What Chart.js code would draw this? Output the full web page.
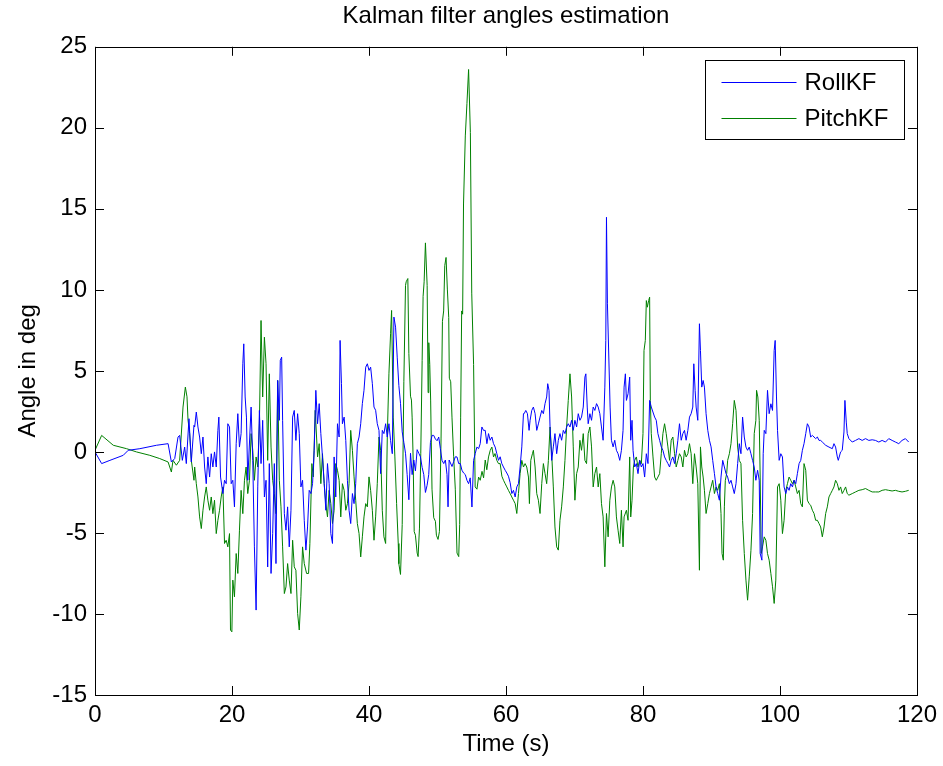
<!DOCTYPE html>
<html>
<head>
<meta charset="utf-8">
<script src="https://cdn.jsdelivr.net/npm/chart.js@4/dist/chart.umd.min.js"></script>
<style>
  html, body { margin: 0; padding: 0; background: #fff; }
  #wrap { width: 943px; height: 766px; }
</style>
</head>
<body>
<div id="wrap"><canvas id="kfChart" width="943" height="766"></canvas></div>
<script>
// [time (s), angle (deg)]
const rollKF = [
  [0,0],[0.97,-0.72],[2.18,-0.52],[4.12,-0.21],[4.85,0.1],[6.55,0.2],[8.97,0.41],[10.67,0.51],[11.15,-0.62],[11.64,-0.41],
  [12.12,0.92],[12.36,1.02],[12.75,-0.52],[13.09,0.3],[13.33,-0.72],[13.72,2.05],[14.06,-0.62],[14.45,1.64],
  [14.55,1.54],[14.79,2.46],[15.03,1.54],[15.27,0.92],[15.52,-0.11],[15.76,0.92],[16.0,-0.93],[16.24,-1.96],[16.48,-0.31],[16.73,-1.55],
  [16.97,-0.11],[17.21,-0.93],[17.45,0],[17.7,-0.93],[17.94,1.33],[18.08,2.15],[18.33,-1.55],[18.67,-2.57],[18.91,-1.75],[19.15,-1.96],
  [19.39,1.74],[19.64,1.54],[19.88,-1.96],[20.12,-1.75],[20.36,-3.39],[20.61,0.51],[20.85,2.36],[21.09,0.3],[21.33,1.13],[21.58,5.44],
  [21.72,6.67],[21.92,3.39],[22.11,2.15],[22.3,-1.75],[22.79,2.77],[23.03,-0.52],[23.27,-5.86],[23.52,-9.76],[23.76,-2.16],[24.0,2.56],
  [24.24,-0.72],[24.48,1.95],[24.73,-2.78],[24.97,-1.75],[25.21,-7.1],[25.45,-0.72],[25.7,-7.5],[25.94,-5.04],[26.18,-0.72],[26.42,-6.89],
  [26.67,4.41],[26.91,1.95],[27.05,5.65],[27.25,5.85],[27.39,1.95],[27.64,-3.81],[27.88,-4.83],[28.12,-3.39],[28.36,-5.86],[28.61,-3.6],
  [28.85,2.15],[29.09,2.56],[29.33,0.71],[29.58,2.36],[29.82,1.13],[30.06,-2.16],[30.3,-1.75],[30.55,-4.22],
  [30.79,-6.06],[31.03,-4.63],[31.27,-2.37],[31.52,-2.57],[31.76,-1.96],[32.0,0.1],[32.24,3.8],[32.49,1.74],[32.73,2.98],[32.97,1.13],
  [33.21,-0.31],[33.46,-1.96],[33.7,-3.6],[33.94,-0.72],[34.18,-1.96],[34.43,-5.04],[34.67,-5.65],[34.91,-0.31],[35.15,-2.78],[35.4,1.74],
  [35.64,0.92],[35.78,6.88],[35.98,4.21],[36.12,1.74],[36.37,2.15],[36.61,0.71],[36.85,-1.75],[37.09,-3.6],[37.33,-4.42],[37.58,-2.57],
  [37.82,-3.19],[38.06,-1.96],[38.3,0.51],[38.55,0.92],[38.79,1.74],[39.03,2.98],[39.27,3.8],[39.52,5.23],[39.76,5.44],[40.0,5.03],
  [40.24,5.23],[40.49,4.21],[40.73,2.77],[40.97,2.57],[41.21,1.74],[41.46,1.33],[41.7,-1.34],[41.94,1.33],[42.18,1.13],[42.43,1.74],
  [42.67,0.92],[42.91,1.74],[43.15,0.71],[43.4,-0.11],[43.64,8.32],[43.88,7.7],[44.12,5.85],
  [44.36,4.1],[44.6,3.0],[44.85,1.24],[45.09,0.58],[45.33,-0.08],[45.57,-1.4],[45.82,-2.95],[46.06,-0.08],[46.3,-1.4],[46.54,-0.5],
  [46.78,-1.17],[47.03,0.14],[47.27,-0.08],[47.51,-0.3],[47.76,-0.96],[48.0,-1.4],[48.24,-2.5],[48.48,-2.06],[48.72,-1.4],[48.97,0.58],
  [49.21,1.02],[49.45,1.02],[49.69,0.8],[49.94,0.69],[50.18,0.92],[50.42,0.2],[50.66,-0.52],[50.91,-0.72],[51.15,-0.5],[51.39,-1.4],
  [51.54,-3.39],[51.7,-0.5],[52.12,-0.9],[52.36,-0.6],[52.6,-0.3],[52.85,-0.31],[53.09,-0.72],[53.33,-0.72],[53.57,-1.13],[53.81,-1.3],
  [54.06,-1.4],[54.3,-1.75],[54.54,-1.96],[54.78,-1.6],[55.03,-3.4],[55.27,-0.52],[55.51,-0.1],[55.75,0.3],[56.0,0.2],[56.24,0.51],
  [56.48,1.54],[56.72,1.33],[56.97,1.33],[57.21,0.51],[57.45,1.13],[57.69,0.72],[57.94,0.92],[58.18,0.51],[58.42,0.3],[58.66,-0.1],
  [58.91,-0.52],[59.15,-0.3],[59.39,-0.72],[59.63,-0.93],[59.88,-1.13],[60.12,-1.3],[60.36,-1.5],
  [60.61,-1.9],[60.85,-2.57],[61.09,-2.37],[61.34,-2.78],[61.58,-2.16],[61.82,-1.96],[62.06,-0.93],[62.31,0.31],[62.55,2.36],[62.65,2.36],
  [62.89,2.56],[63.13,2.36],[63.37,1.33],[63.52,1.95],[63.76,2.56],[64.0,2.77],[64.25,2.36],[64.49,1.33],[64.73,1.73],[64.97,2.15],
  [65.22,2.56],[65.46,2.36],[65.7,2.98],[65.94,3.39],[66.09,4.21],[66.28,3.8],[66.43,1.54],[66.67,-0.52],[66.91,0.31],[67.15,1.13],
  [67.4,-0.11],[67.64,0.72],[67.88,1.13],[68.12,0.72],[68.37,1.33],[68.61,1.13],[68.85,1.54],[69.09,1.74],[69.34,1.54],[69.58,1.95],
  [69.82,1.33],[70.06,1.95],[70.31,1.54],[70.55,2.36],[70.79,1.95],[71.03,2.15],[71.28,2.77],[71.52,4.62],[71.66,4.82],[71.86,2.77],
  [72.0,1.74],[72.25,2.36],[72.49,1.95],[72.73,2.77],[72.97,2.56],[73.22,2.98],[73.46,2.77],[73.7,2.36],[73.94,1.54],[74.18,0.72],
  [74.43,4.0],[74.57,6.88],[74.67,14.48],[74.81,9.14],
  [75.2,2.77],[75.39,0.72],[75.64,0.31],[75.88,0.72],[76.12,0.1],[76.36,-0.11],[76.61,-0.52],[76.85,0.1],[77.09,1.33],[77.24,4.0],
  [77.43,4.82],[77.58,3.18],[77.82,3.59],[78.06,4.62],[78.21,0.72],[78.4,1.95],[78.55,0.1],[78.79,-0.93],[79.03,-0.72],[79.27,-1.34],
  [79.52,-0.52],[79.76,-0.93],[80.0,-0.72],[80.24,-1.55],[80.49,-0.11],[80.73,-0.72],[80.97,3.18],[81.21,2.77],[81.7,2.15],[81.94,1.95],
  [82.18,1.13],[82.43,0.72],[82.67,0.31],[82.91,0.1],[83.15,-0.31],[83.39,-0.52],[83.64,-0.72],[83.88,-0.93],[84.12,-0.52],[84.36,-0.31],
  [84.61,-0.72],[84.85,-0.11],[85.09,0.72],[85.33,1.74],[85.58,0.72],[85.82,1.13],[86.06,1.33],[86.3,0.72],[86.55,1.33],[86.79,2.15],
  [87.03,2.36],[87.27,2.77],[87.42,5.44],[87.61,3.8],[87.76,2.77],[88.0,1.95],[88.24,7.91],[88.39,6.26],[88.58,4.0],[88.78,4.41],
  [88.97,4.0],[89.21,2.36],[89.46,1.33],[89.7,0.72],[89.94,0.31],[90.18,-0.52],[90.43,-1.34],[90.67,-2.16],[90.91,-2.57],
  [91.15,-2.98],[91.39,-1.55],[91.64,-0.52],[91.88,-0.93],[92.12,-1.34],[92.36,-1.55],[92.61,-1.96],[92.85,-1.75],[93.09,-2.16],[93.33,-2.57],
  [93.58,-1.96],[93.82,-0.72],[94.06,0.51],[94.3,-0.11],[94.54,2.15],[94.79,0.92],[95.03,0.3],[95.27,0.1],[95.51,0.3],[95.76,-0.11],
  [96.0,-0.52],[96.24,-0.93],[96.48,-1.75],[96.73,-1.13],[96.97,-1.75],[97.11,-6.27],[97.36,-6.68],[97.55,-0.11],[97.7,1.33],[97.94,1.13],
  [98.18,3.8],[98.42,2.36],[98.67,2.97],[98.91,2.56],[99.15,6.26],[99.3,6.88],[99.49,3.39],[99.64,1.33],[99.88,-0.52],[100.12,-0.11],
  [100.36,-0.31],[100.6,-2.16],[100.85,-2.57],[101.09,-2.16],[101.33,-2.37],[101.57,-1.96],[101.82,-2.16],[102.06,-1.75],[102.3,-1.96],[102.54,-1.34],
  [102.79,-0.72],[103.03,-0.52],[103.27,0.1],[103.51,0.51],[103.76,1.13],[104.0,1.74],[104.24,1.54],[104.48,0.92],[104.73,1.02],
  [105.21,0.82],[105.46,0.92],[105.7,0.71],[105.94,0.71],[106.18,0.61],[106.67,0.41],[107.15,0.3],[107.64,0.2],[107.88,0.51],[108.12,0.3],
  [108.37,-0.31],[108.51,-0.52],[108.85,0],[109.09,0.1],[109.34,1.23],[109.48,3.18],[109.68,1.84],[109.82,1.13],[110.06,0.82],[110.55,0.61],
  [111.03,0.71],[111.52,0.82],[112.0,0.71],[112.49,0.82],[112.97,0.71],[113.46,0.75],[113.94,0.71],[114.43,0.61],[114.91,0.71],[115.4,0.61],
  [115.88,0.82],[116.37,0.71],[116.85,0.61],[117.34,0.51],[117.82,0.71],[118.31,0.82],[118.79,0.61]
];

const pitchKF = [
  [0,0.1],[0.97,1.02],[2.67,0.41],[4.61,0.2],[6.06,0],[8.0,-0.21],[9.45,-0.41],[10.67,-0.62],[11.15,-1.24],[11.39,-0.52],
  [11.88,-0.82],[12.36,-0.52],[12.85,2.77],[13.19,4.0],[13.43,3.4],[13.58,1.97],[13.82,1.13],[14.06,-0.52],[14.45,-1.75],
  [14.55,-0.93],[14.79,-1.96],[15.03,-2.78],[15.27,-4.01],[15.52,-4.73],[15.76,-3.6],[16.0,-2.78],[16.24,-2.16],[16.48,-2.98],[16.73,-3.6],
  [16.97,-2.78],[17.21,-3.81],[17.45,-2.98],[17.7,-5.04],[17.94,-4.22],[18.18,-3.6],[18.42,-2.78],[18.67,-2.16],[18.91,-5.65],[19.15,-5.45],
  [19.39,-5.86],[19.64,-5.04],[19.78,-10.99],[19.98,-11.1],[20.12,-7.91],[20.36,-8.94],[20.61,-6.27],[20.85,-7.5],[21.09,-4.83],[21.33,-2.37],
  [21.58,-3.81],[21.82,-1.75],[22.06,-0.93],[22.3,-2.57],[22.55,-1.75],[22.79,1.13],[23.03,0.1],[23.27,-1.75],[23.52,-0.31],[23.76,-0.93],
  [24.0,1.74],[24.24,8.11],[24.48,3.39],[24.73,7.08],[24.97,5.44],[25.21,-0.52],[25.45,4.82],[25.7,0.3],[25.94,-1.75],[26.18,-2.57],
  [26.42,-3.81],[26.67,4.41],[26.91,-1.75],[27.15,-3.39],[27.39,-5.86],[27.64,-8.74],[27.88,-8.33],[28.12,-6.89],[28.36,-7.91],[28.61,-8.74],
  [28.85,-5.45],[29.09,-7.09],[29.33,-7.3],[29.58,-9.97],[29.82,-10.99],[30.06,-8.94],[30.3,-5.86],[30.55,-6.89],
  [30.89,-7.5],[31.18,-7.5],[31.37,-5.65],[31.66,-0.72],[31.86,-1.54],[32.15,2.57],[32.49,-0.31],[32.73,0.51],[32.97,-1.96],[33.21,-0.11],
  [33.46,-1.96],[33.7,-3.19],[33.94,-4.01],[34.18,-2.37],[34.43,-3.19],[34.67,-4.42],[34.91,-3.6],[35.15,-0.72],[35.4,-1.13],[35.64,-1.75],
  [35.88,-4.01],[36.12,-1.96],[36.37,-2.37],[36.61,-3.6],[36.85,-3.19],[37.09,-1.96],[37.33,1.33],[37.58,0.1],[37.82,-1.54],[38.06,-2.98],
  [38.3,-4.42],[38.55,-5.04],[38.79,-6.48],[39.03,-5.24],[39.27,-4.01],[39.52,-3.19],[39.76,-3.39],[40.0,-1.54],[40.24,-2.37],[40.49,-3.6],
  [40.73,-5.45],[40.97,-4.01],[41.21,-1.96],[41.46,0.92],[41.7,0.1],[41.94,-3.6],[42.18,-5.24],[42.43,-5.65],[42.67,0.92],[42.91,4.82],
  [43.15,7.29],[43.3,8.73],[43.54,2.15],[43.78,-0.31],[44.03,-3.19],[44.27,-5.65],
  [44.36,-6.9],[44.6,-7.56],[44.85,-4.48],[45.09,4.33],[45.33,10.27],[45.43,10.5],[45.67,10.7],[45.82,6.08],[46.06,3.44],[46.2,3.2],
  [46.3,2.1],[46.45,-0.52],[46.6,-4.92],[46.78,-5.14],[47.03,-6.24],[47.17,-6.46],[47.37,-4.7],[47.56,-0.08],[47.76,5.64],[47.9,9.6],
  [48.05,10.5],[48.24,12.9],[48.49,10.27],[48.63,3.66],[48.73,6.74],[48.87,5.4],[49.0,3.2],[49.2,-2.3],[49.45,-4.06],[49.7,-4.28],
  [49.84,-5.14],[50.08,-5.4],[50.28,-4.92],[50.52,0.8],[50.72,8.06],[50.9,8.7],[51.06,11.5],[51.25,12.0],[51.44,10.05],[51.64,8.3],
  [51.73,4.55],[51.93,4.33],[52.12,2.1],[52.36,-0.3],[52.6,-2.3],[52.85,-6.24],[53.1,-6.46],[53.24,-4.48],[53.38,2.1],[53.53,8.7],
  [53.67,8.5],[53.8,15.3],[54.06,19.5],[54.3,21.5],[54.54,23.6],[54.8,19.7],[55.0,9.8],[55.27,5.4],[55.5,-2.16],[55.76,-2.3],
  [56.0,-1.55],[56.24,-1.75],[56.5,-1.2],[56.73,-1.6],[56.97,-0.5],[57.2,-1.1],[57.45,-0.31],[57.7,0.1],[57.94,0.3],[58.18,-0.31],
  [58.4,-0.1],[58.66,-0.52],[58.9,-0.72],[59.15,-0.72],[59.4,-1.5],[59.64,-1.75],[59.88,-1.96],[60.12,-2.16],[60.36,-2.37],
  [60.61,-2.57],[60.85,-2.78],[61.09,-2.98],[61.34,-3.19],[61.58,-3.8],[61.82,-2.57],[62.06,-1.34],[62.31,-0.52],[62.55,-0.93],[62.79,-0.72],
  [63.03,-0.93],[63.28,-1.55],[63.42,-3.19],[63.62,-0.52],[63.86,-0.11],[64.0,0.1],[64.25,-0.93],[64.49,-2.57],[64.73,-2.98],[64.97,-3.8],
  [65.22,-1.96],[65.46,-0.72],[65.7,-1.34],[65.94,-1.96],[66.19,-0.52],[66.43,1.54],[66.67,-0.11],[66.91,-2.16],[67.15,-4.63],[67.4,-5.86],
  [67.64,-6.06],[67.88,-4.22],[68.12,-3.39],[68.37,-2.16],[68.61,-0.52],[68.85,1.54],[69.09,3.18],[69.34,4.82],[69.58,3.39],[69.82,0.31],
  [70.06,-2.98],[70.31,-1.34],[70.55,-0.93],[70.79,0.72],[71.03,0.1],[71.28,1.13],[71.52,-0.52],[71.76,-0.72],[72.0,1.13],[72.25,1.54],
  [72.49,0.31],[72.73,-2.16],[72.97,-1.34],[73.22,-0.93],[73.46,-2.16],[73.7,-1.34],[73.94,-3.19],[74.18,-4.01],[74.43,-7.09],[74.67,-3.8],
  [74.91,-5.24],[75.16,-2.98],[75.4,-2.16],[75.64,-1.75],
  [75.88,-2.16],[76.12,-4.01],[76.36,-4.83],[76.61,-5.65],[76.85,-3.6],[77.09,-5.86],[77.24,-4.01],[77.58,-3.6],[77.82,-4.22],[78.06,-0.31],
  [78.21,-4.01],[78.4,-2.98],[78.6,-0.93],[78.79,-0.52],[79.03,-0.31],[79.27,-0.93],[79.52,-0.52],[79.76,-0.72],[80.0,1.13],[80.15,6.26],
  [80.34,6.88],[80.49,9.34],[80.63,8.93],[80.83,9.34],[80.97,9.55],[81.07,3.18],[81.21,1.13],[81.46,-0.31],[81.7,-1.55],[81.94,-1.75],
  [82.18,-1.55],[82.43,-1.34],[82.67,-0.11],[82.91,1.13],[83.15,1.74],[83.39,1.13],[83.64,0.31],[83.88,-0.52],[84.12,0.72],[84.36,0.92],
  [84.61,-0.11],[84.85,-0.93],[85.09,-0.52],[85.33,-0.11],[85.58,-0.31],[85.82,-0.93],[86.06,0.1],[86.3,-0.31],[86.55,-0.11],[86.79,0.51],
  [87.03,-0.11],[87.27,-1.96],[87.52,-0.11],[87.76,-0.93],[88.0,-1.96],[88.24,-7.3],[88.39,0.31],[88.58,-0.93],[88.78,-1.55],[88.97,-2.37],
  [89.21,-3.8],[89.46,-3.19],[89.7,-2.57],[89.94,-2.16],[90.18,-1.75],[90.43,-2.57],[90.67,-2.16],[90.91,-2.37],
  [91.15,-1.96],[91.39,-3.8],[91.54,-6.27],[91.73,-6.68],[91.88,-3.39],[92.02,-1.75],[92.22,-1.34],[92.36,-0.52],[92.61,-0.11],[92.85,0.51],
  [93.09,1.74],[93.33,3.18],[93.58,2.56],[93.82,0.3],[94.06,-0.52],[94.3,-0.72],[94.54,-4.22],[94.79,-6.27],[95.03,-7.91],[95.27,-9.15],
  [95.51,-7.71],[95.76,-6.07],[96.0,-3.8],[96.24,1.13],[96.48,1.95],[96.58,3.8],[96.77,3.39],[96.97,1.95],[97.11,-1.55],[97.26,-6.27],
  [97.45,-5.86],[97.7,-5.24],[97.94,-5.45],[98.18,-6.27],[98.42,-6.68],[98.67,-7.5],[98.91,-8.32],[99.15,-9.35],[99.39,-7.91],[99.64,-2.16],
  [99.88,-1.96],[100.12,-2.98],[100.36,-5.04],[100.6,-4.22],[100.85,-2.37],[101.09,-1.96],[101.33,-1.55],[101.57,-1.75],[101.82,-1.96],[102.06,-1.75],
  [102.3,-2.16],[102.54,-2.57],[102.79,-2.37],[103.03,-3.19],[103.27,-3.39],[103.51,-0.72],[103.76,-1.13],[104.0,-2.98],[104.24,-3.19],[104.48,-3.29],
  [104.73,-3.6],[104.97,-3.8],[105.21,-4.22],[105.46,-4.22],[105.7,-4.42],[105.94,-4.63],[106.18,-5.24],
  [106.43,-4.63],[106.67,-3.8],[106.91,-3.39],[107.15,-2.78],[107.4,-2.57],[107.64,-2.37],[107.88,-2.16],[108.12,-1.75],[108.37,-1.96],[108.61,-2.37],
  [108.85,-2.16],[109.09,-2.57],[109.34,-2.37],[109.58,-2.16],[109.82,-2.57],[110.06,-2.67],[110.55,-2.57],[111.03,-2.47],[111.52,-2.37],[112.0,-2.33],
  [112.49,-2.26],[112.97,-2.37],[113.46,-2.47],[113.94,-2.47],[114.43,-2.47],[114.91,-2.37],[115.4,-2.33],[115.88,-2.37],[116.37,-2.41],[116.85,-2.37],
  [117.34,-2.43],[117.82,-2.47],[118.31,-2.43],[118.79,-2.37]
];

const xTicks = [0, 20, 40, 60, 80, 100, 120];
const yTicks = [-15, -10, -5, 0, 5, 10, 15, 20, 25];

const FONT = '"Liberation Sans", Arial, Helvetica, sans-serif';
Chart.defaults.font.family = FONT;
Chart.defaults.font.size = 24;
Chart.defaults.color = '#000';

// MATLAB-like box, inward ticks on all four sides and a framed legend
const matlabAxes = {
  id: 'matlabAxes',
  afterDatasetsDraw(chart) {
    const { ctx, chartArea: a, scales: { x, y } } = chart;
    const tl = 9;
    ctx.save();
    ctx.strokeStyle = '#000';
    ctx.lineWidth = 1;
    ctx.beginPath();
    xTicks.forEach(v => {
      const px = Math.round(x.getPixelForValue(v)) + 0.5;
      ctx.moveTo(px, a.bottom); ctx.lineTo(px, a.bottom - tl);
      ctx.moveTo(px, a.top); ctx.lineTo(px, a.top + tl);
    });
    yTicks.forEach(v => {
      const py = Math.round(y.getPixelForValue(v)) + 0.5;
      ctx.moveTo(a.left, py); ctx.lineTo(a.left + tl, py);
      ctx.moveTo(a.right, py); ctx.lineTo(a.right - tl, py);
    });
    ctx.stroke();
    ctx.strokeRect(Math.round(a.left) + 0.5, Math.round(a.top) + 0.5, Math.round(a.right - a.left), Math.round(a.bottom - a.top));

    // legend
    const bw = 199, bh = 79;
    const bx = Math.round(a.right - 13 - bw) + 0.5, by = Math.round(a.top + 13) + 0.5;
    ctx.fillStyle = '#fff';
    ctx.fillRect(bx, by, bw, bh);
    ctx.strokeRect(bx, by, bw, bh);
    ctx.font = '24px ' + FONT;
    ctx.textBaseline = 'middle';
    chart.data.datasets.forEach((ds, i) => {
      const ly = Math.round(by + 21 + i * 36) + 0.5;
      ctx.strokeStyle = ds.borderColor;
      ctx.beginPath(); ctx.moveTo(bx + 16, ly); ctx.lineTo(bx + 91, ly); ctx.stroke();
      ctx.fillStyle = '#000';
      ctx.fillText(ds.label, bx + 99, ly + 1);
    });
    ctx.restore();
  }
};

new Chart(document.getElementById('kfChart'), {
  type: 'line',
  data: {
    datasets: [
      { label: 'RollKF', data: rollKF.map(p => ({ x: p[0], y: p[1] })), borderColor: '#0000ff', borderWidth: 1, pointRadius: 0, tension: 0 },
      { label: 'PitchKF', data: pitchKF.map(p => ({ x: p[0], y: p[1] })), borderColor: '#008000', borderWidth: 1, pointRadius: 0, tension: 0 }
    ]
  },
  options: {
    responsive: false,
    animation: false,
    devicePixelRatio: 1,
    layout: { padding: { left: 0, right: 23, top: 0, bottom: 0 } },
    plugins: {
      legend: { display: false },
      tooltip: { enabled: false },
      title: {
        display: true, text: 'Kalman filter angles estimation', color: '#000', fullSize: false,
        font: { size: 24, weight: 'normal', family: FONT }, padding: { top: 2, bottom: 16 }
      }
    },
    scales: {
      x: {
        type: 'linear', min: 0, max: 120,
        afterBuildTicks: s => { s.ticks = xTicks.map(v => ({ value: v })); },
        afterFit: s => { s.height = 71; },
        grid: { display: false, drawTicks: false },
        border: { display: false },
        ticks: { font: { size: 24 }, padding: 6, maxRotation: 0 },
        title: { display: true, text: 'Time (s)', font: { size: 24 }, padding: { top: 0, bottom: 7 } }
      },
      y: {
        type: 'linear', min: -15, max: 25,
        afterBuildTicks: s => { s.ticks = yTicks.map(v => ({ value: v })); },
        afterFit: s => { s.width = 95; },
        grid: { display: false, drawTicks: false },
        border: { display: false },
        ticks: { font: { size: 24 }, padding: 8 },
        title: { display: true, text: 'Angle in deg', font: { size: 24 }, padding: { top: 14, bottom: 0 } }
      }
    }
  },
  plugins: [matlabAxes]
});
</script>
</body>
</html>
